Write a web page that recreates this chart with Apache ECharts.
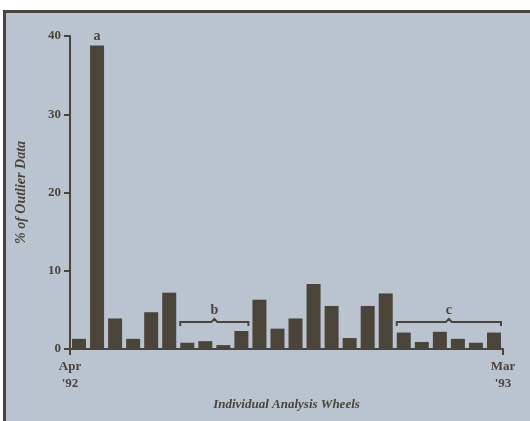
<!DOCTYPE html>
<html>
<head>
<meta charset="utf-8">
<script src="https://cdn.jsdelivr.net/npm/echarts@6/dist/echarts.min.js"></script>
<style>
  html, body { margin: 0; padding: 0; background: #ffffff; }
  #panel {
    position: absolute; left: 3px; top: 10px; width: 527px; height: 411px;
    box-sizing: border-box;
    border-top: 3px solid #4a4538; border-left: 3px solid #4a4538;
    background: #bac4d1;
  }
  #chart { position: absolute; left: 0; top: 0; width: 530px; height: 421px; }
</style>
</head>
<body>
<div id="panel"></div>
<div id="chart"></div>
<script>
// Analysis wheels, April 1992 to March 1993
const wheels = ['1','2','3','4','5','6','7','8','9','10','11','12',
                '13','14','15','16','17','18','19','20','21','22','23','24'];
// Percentage of outlier data per wheel
const outlierPct = [1.3, 38.8, 3.9, 1.3, 4.7, 7.2, 0.8, 1.0, 0.5, 2.3, 6.3, 2.6,
                    3.9, 8.3, 5.5, 1.4, 5.5, 7.1, 2.1, 0.9, 2.2, 1.3, 0.8, 2.1];
// Tick labels
const yTicks = [0, 10, 20, 30, 40];
const xEndLabels = ["Apr\n'92", "Mar\n'93"];
// Annotated groups: [first wheel index, last wheel index, bracket level, label]
const bracketStart = [6, 18];
const bracketEnd = [9, 23];
const bracketLevel = [3.45, 3.45];
const bracketText = ['b', 'c'];
const peakLabelIndex = 1;
const peakLabel = 'a';

const ink = '#4a4538';
const serif = '"Liberation Serif", "DejaVu Serif", serif';

const chart = echarts.init(document.getElementById('chart'), null, { renderer: 'canvas' });

chart.setOption({
  backgroundColor: 'transparent',
  animation: false,
  grid: { left: 70, right: 27, top: 36, bottom: 72 },
  xAxis: [
    {
      type: 'category', data: wheels, position: 'bottom',
      axisLine: { show: false }, axisTick: { show: false }, axisLabel: { show: false }
    },
    {
      type: 'value', position: 'bottom', min: 0, max: wheels.length, interval: wheels.length,
      axisLine: { show: true, lineStyle: { color: ink, width: 2 } },
      axisTick: { show: true, length: 6, lineStyle: { color: ink, width: 2 } },
      splitLine: { show: false },
      axisLabel: {
        margin: 9, color: ink, fontFamily: serif, fontSize: 13, fontWeight: 'bold', lineHeight: 17,
        formatter: v => (v === 0 ? xEndLabels[0] : xEndLabels[1])
      },
      name: 'Individual Analysis Wheels', nameLocation: 'middle', nameGap: 49,
      nameTextStyle: { color: ink, fontFamily: serif, fontStyle: 'italic', fontWeight: 'bold', fontSize: 13 }
    }
  ],
  yAxis: {
    type: 'value', min: yTicks[0], max: yTicks[yTicks.length - 1], interval: yTicks[1] - yTicks[0],
    axisLine: { show: true, lineStyle: { color: ink, width: 2 } },
    axisTick: { show: true, length: 6, lineStyle: { color: ink, width: 2 } },
    splitLine: { show: false },
    axisLabel: { margin: 9, color: ink, fontFamily: serif, fontSize: 13, fontWeight: 'bold' },
    name: '% of Outlier Data', nameLocation: 'middle', nameGap: 42,
    nameTextStyle: { color: ink, fontFamily: serif, fontStyle: 'italic', fontWeight: 'bold', fontSize: 14 }
  },
  series: [
    {
      type: 'bar', xAxisIndex: 0, barWidth: 14,
      itemStyle: { color: ink },
      data: outlierPct.map((v, i) => i === peakLabelIndex ? {
        value: v,
        label: {
          show: true, position: 'top', distance: 2, formatter: peakLabel,
          color: ink, fontFamily: serif, fontWeight: 'bold', fontSize: 14
        }
      } : v)
    },
    {
      type: 'custom', xAxisIndex: 0,
      data: bracketStart.map((s, i) => [s, bracketEnd[i], bracketLevel[i]]),
      renderItem: (params, api) => {
        const half = 7;
        const p1 = api.coord([api.value(0), api.value(2)]);
        const p2 = api.coord([api.value(1), api.value(2)]);
        const x1 = p1[0] - half, x2 = p2[0] + half, y = p1[1];
        const mid = (x1 + x2) / 2;
        return {
          type: 'group',
          children: [
            {
              type: 'polyline',
              shape: { points: [[x1, y + 4], [x1, y], [mid - 3, y], [mid, y - 3], [mid + 3, y], [x2, y], [x2, y + 4]] },
              style: { stroke: ink, lineWidth: 2, fill: null }
            },
            {
              type: 'text',
              style: {
                x: mid, y: y - 5, text: bracketText[params.dataIndex],
                textAlign: 'center', textVerticalAlign: 'bottom',
                fill: ink, font: 'bold 14px ' + serif
              }
            }
          ]
        };
      }
    }
  ]
});
</script>
</body>
</html>
